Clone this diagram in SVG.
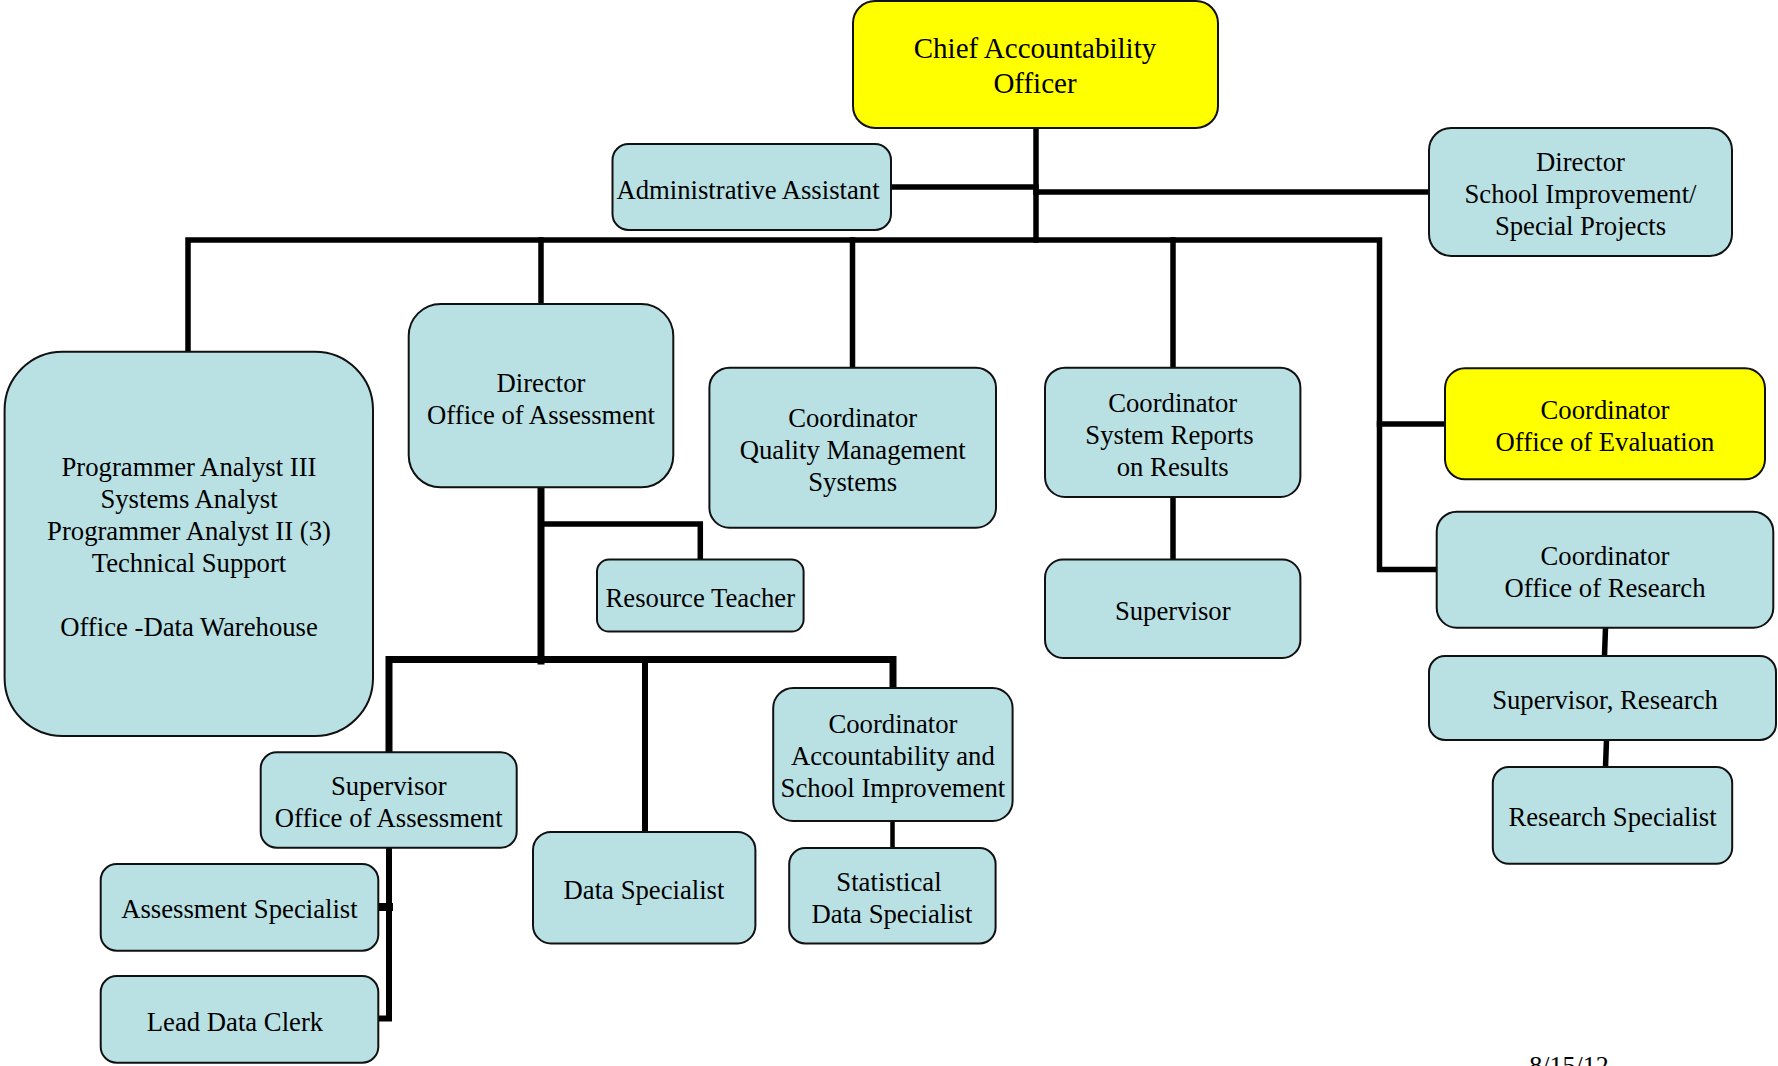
<svg xmlns="http://www.w3.org/2000/svg" width="1778" height="1066" viewBox="0 0 1778 1066">
<style>
.b{fill:#B9E0E3;stroke:#111;stroke-width:2}
.y{fill:#FFFF00;stroke:#111;stroke-width:2}
.t,.d{font-family:"Liberation Serif","Times New Roman",serif;font-size:26.7px;text-anchor:middle;fill:#000}
.t{transform:translate(0px,1.5px)}
.c{fill:none;stroke:#000;stroke-width:5.5;stroke-linecap:square;stroke-linejoin:miter}
</style>
<rect width="1778" height="1066" fill="#fff"/>
<g id="connectors" class="c">
<path d="M1036 128V240"/>
<path d="M891 187H1036"/>
<path d="M1036 192H1429"/>
<path d="M188 352V240H1379.5V569.5H1437"/>
<path d="M541 240V304"/>
<path d="M852.5 240V368"/>
<path d="M1173 240V368"/>
<path d="M1379.5 424H1445"/>
<path d="M1173 497V560"/>
<path d="M1605.5 628L1604.5 656"/>
<path d="M1606.5 740L1605.5 767"/>
<path d="M541 487V661" style="stroke-width:7"/>
<path d="M541 524H700.3V559" />
<path d="M389 752V659.5H893V688" style="stroke-width:7"/>
<path d="M645 659.5V832" style="stroke-width:6"/>
<path d="M892.5 821V848" style="stroke-width:4.5"/>
<path d="M389 848V1018.5H379" style="stroke-width:6"/>
<path d="M379 907H389" style="stroke-width:8"/>
</g>
<g id="chief"><rect class="y" x="853" y="1" width="365" height="127" rx="22"/><text class="t" style="font-size:29px" x="1035" y="56"><tspan x="1035">Chief Accountability</tspan><tspan x="1035" y="91.5">Officer</tspan></text></g>
<g id="admin"><rect class="b" x="612.5" y="144" width="278.5" height="86" rx="16"/><text class="t" x="748" y="197.5">Administrative Assistant</text></g>
<g id="director-si"><rect class="b" x="1429" y="128" width="303" height="128" rx="22"/><text class="t"><tspan x="1580.5" y="169">Director</tspan><tspan x="1580.5" y="201">School Improvement/</tspan><tspan x="1580.5" y="233">Special Projects</tspan></text></g>
<g id="programmers"><rect class="b" x="4.6" y="351.7" width="368.4" height="384.3" rx="58"/><text class="t"><tspan x="189" y="474">Programmer Analyst III</tspan><tspan x="189" y="506">Systems Analyst</tspan><tspan x="189" y="538">Programmer Analyst II (3)</tspan><tspan x="189" y="570">Technical Support</tspan><tspan x="189" y="634">Office -Data Warehouse</tspan></text></g>
<g id="director-oa"><rect class="b" x="408.7" y="304" width="264.6" height="183.3" rx="32"/><text class="t"><tspan x="541" y="390">Director</tspan><tspan x="541" y="422">Office of Assessment</tspan></text></g>
<g id="coord-qms"><rect class="b" x="709.4" y="367.7" width="286.6" height="160" rx="20"/><text class="t"><tspan x="852.7" y="425">Coordinator</tspan><tspan x="852.7" y="457">Quality Management</tspan><tspan x="852.7" y="489">Systems</tspan></text></g>
<g id="coord-srr"><rect class="b" x="1045" y="367.7" width="255.4" height="129.3" rx="20"/><text class="t"><tspan x="1172.7" y="410">Coordinator</tspan><tspan x="1169.5" y="442">System Reports</tspan><tspan x="1172.7" y="474">on Results</tspan></text></g>
<g id="coord-eval"><rect class="y" x="1445" y="368.3" width="320" height="111" rx="20"/><text class="t"><tspan x="1605" y="417">Coordinator</tspan><tspan x="1605" y="449">Office of Evaluation</tspan></text></g>
<g id="resource-teacher"><rect class="b" x="597" y="559.6" width="206.6" height="72" rx="12"/><text class="t" x="700.3" y="605">Resource Teacher</text></g>
<g id="supervisor"><rect class="b" x="1045" y="559.6" width="255.4" height="98.3" rx="18"/><text class="t" x="1172.7" y="618.5">Supervisor</text></g>
<g id="coord-research"><rect class="b" x="1436.7" y="511.7" width="336.6" height="116" rx="20"/><text class="t"><tspan x="1605" y="563">Coordinator</tspan><tspan x="1605" y="595">Office of Research</tspan></text></g>
<g id="supervisor-research"><rect class="b" x="1429" y="656" width="347" height="84" rx="16"/><text class="t" x="1605" y="707">Supervisor, Research</text></g>
<g id="research-specialist"><rect class="b" x="1492.8" y="767" width="239.4" height="96.8" rx="16"/><text class="t" x="1612.5" y="824.5">Research Specialist</text></g>
<g id="supervisor-oa"><rect class="b" x="260.7" y="752.3" width="256" height="95.4" rx="16"/><text class="t"><tspan x="388.7" y="793">Supervisor</tspan><tspan x="388.7" y="825">Office of Assessment</tspan></text></g>
<g id="data-specialist"><rect class="b" x="533" y="832" width="222.4" height="111.4" rx="18"/><text class="t" x="644" y="897">Data Specialist</text></g>
<g id="coord-asi"><rect class="b" x="773.2" y="688" width="239.4" height="133" rx="20"/><text class="t"><tspan x="892.9" y="731.5">Coordinator</tspan><tspan x="892.9" y="763.5">Accountability and</tspan><tspan x="892.9" y="795.5">School Improvement</tspan></text></g>
<g id="statistical-ds"><rect class="b" x="789.2" y="848" width="206.4" height="95.4" rx="16"/><text class="t"><tspan x="889" y="889">Statistical</tspan><tspan x="892" y="921">Data Specialist</tspan></text></g>
<g id="assessment-specialist"><rect class="b" x="100.7" y="864" width="277.6" height="86.7" rx="16"/><text class="t" x="239.4" y="916.5">Assessment Specialist</text></g>
<g id="lead-data-clerk"><rect class="b" x="100.7" y="976" width="277.6" height="86.7" rx="16"/><text class="t" x="235" y="1029">Lead Data Clerk</text></g>
<text class="d" style="font-size:26px" x="1569" y="1074">8/15/12</text>
</svg>
